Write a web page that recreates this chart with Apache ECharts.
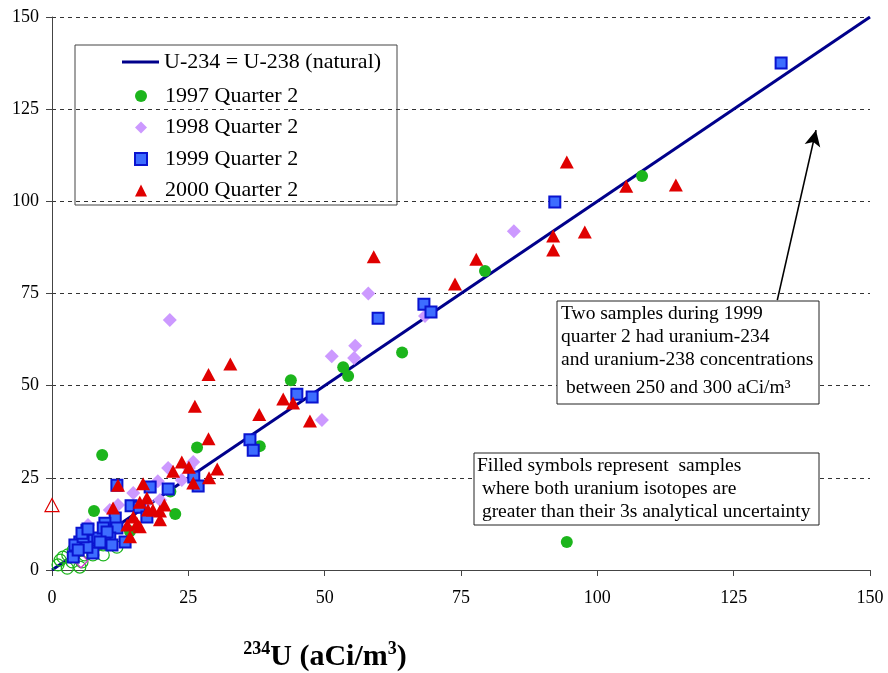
<!DOCTYPE html>
<html>
<head>
<meta charset="utf-8">
<title>U-234 vs U-238</title>
<script src="https://cdn.jsdelivr.net/npm/echarts@6/dist/echarts.min.js"></script>
<style>
  html, body { margin: 0; padding: 0; background: #fff; }
  #chart { width: 888px; height: 673px; }
</style>
</head>
<body>
<div id="chart"></div>
<script>
// Axis ticks (aCi/m3)
const xTicks = [0, 25, 50, 75, 100, 125, 150];
const yTicks = [0, 25, 50, 75, 100, 125, 150];

// Reference line where U-234 equals U-238
const naturalLine = [[0, 0], [150, 150]];

// [U-234, U-238] pairs, filled = both isotopes above 3s uncertainty
const q1997 = [
  [9.2, 31.2], [7.7, 16.0], [26.6, 33.2], [38.1, 33.6], [43.8, 51.5], [53.4, 55.0],
  [54.3, 52.6], [64.2, 59.0], [79.4, 81.1], [108.2, 106.9], [94.4, 7.6], [22.6, 15.2],
  [21.7, 21.3], [14.3, 10.5]
];
const q1997Open = [
  [1.1, 1.4], [1.5, 2.7], [2.0, 3.5], [2.9, 4.1], [2.8, 0.5], [3.7, 2.2], [3.9, 5.4],
  [5.5, 2.2], [5.1, 0.8], [6.0, 4.1], [7.5, 4.1], [9.4, 4.1], [11.9, 6.2], [9.4, 6.8],
  [4.8, 6.0]
];

const q1998 = [
  [21.6, 67.8], [84.7, 91.9], [58.0, 75.0], [55.6, 60.8], [51.3, 58.0], [55.4, 57.5],
  [49.5, 40.7], [68.4, 68.9], [25.9, 29.3], [21.3, 27.7], [19.4, 24.1], [23.8, 24.4],
  [14.9, 20.9], [12.1, 17.6], [10.6, 16.3], [6.6, 12.2], [19.8, 19.0], [17.4, 18.5],
  [25.1, 27.7]
];
const q1998Open = [[5.3, 2.5]];

const q1999 = [
  [133.7, 137.5], [92.2, 99.8], [59.8, 68.3], [68.2, 72.1], [69.5, 70.0], [44.9, 47.7],
  [47.7, 46.9], [36.3, 35.3], [36.9, 32.5], [11.9, 23.0], [18.0, 22.5], [21.3, 22.0],
  [26.0, 25.2], [26.8, 22.8], [14.5, 17.4], [16.0, 17.0], [17.4, 14.4], [11.6, 14.1],
  [6.4, 10.8], [9.7, 12.7], [11.9, 11.4], [13.4, 7.6], [5.1, 7.6], [4.2, 6.8],
  [7.5, 4.6], [3.9, 3.5], [7.0, 8.1], [8.4, 8.7], [10.6, 8.7], [9.7, 7.3],
  [11.0, 6.8], [6.4, 6.2], [5.7, 9.0], [9.4, 11.4], [5.5, 10.0], [6.6, 11.1],
  [10.1, 10.3], [8.8, 7.6], [4.8, 5.4]
];

const q2000 = [
  [94.4, 110.7], [105.3, 104.1], [114.4, 104.4], [97.7, 91.7], [91.9, 90.6], [91.9, 86.8],
  [77.8, 84.3], [73.9, 77.6], [59.0, 85.0], [32.7, 55.9], [28.7, 53.0], [26.2, 44.4],
  [28.7, 35.6], [38.0, 42.2], [42.4, 46.4], [44.2, 45.3], [47.3, 40.4], [23.8, 29.3],
  [22.2, 26.8], [25.1, 27.9], [30.3, 27.4], [28.8, 25.0], [25.9, 23.6], [12.1, 23.0],
  [16.7, 23.4], [20.6, 17.6], [19.8, 16.0], [17.4, 19.5], [16.1, 18.4], [14.9, 14.4],
  [13.8, 12.2], [11.2, 16.8], [16.1, 11.7], [17.6, 16.3], [14.3, 9.0], [15.6, 12.6],
  [18.5, 16.3], [19.8, 13.6]
];
const q2000Open = [[0.0, 17.6]];

// Arrow pointing toward the two off-scale 1999 samples
const arrowFrom = [133.0, 73.2];
const arrowTo = [140.1, 119.3];

const noteTop = 'Two samples during 1999\nquarter 2 had uranium-234\nand uranium-238 concentrations';
const noteTopLast = ' between 250 and 300 aCi/m³';
const noteBottom = 'Filled symbols represent  samples\n where both uranium isotopes are\n greater than their 3s analytical uncertainty';

const SERIF = '"Liberation Serif", "Times New Roman", serif';
const colors = {
  line: '#00008b',
  green: '#1cb51c',
  lilac: '#cc99ff',
  blueFill: '#3d6dff',
  blueEdge: '#0a14d0',
  red: '#e00000'
};

function withOpen(filled, open, color) {
  const items = filled.map(p => ({ value: p }));
  open.forEach(p => items.push({
    value: p,
    itemStyle: { color: 'rgba(0,0,0,0)', borderColor: color, borderWidth: 1.2 }
  }));
  return items;
}

const chart = echarts.init(document.getElementById('chart'), null, { renderer: 'canvas' });

const axisCommon = {
  type: 'value',
  min: xTicks[0],
  max: xTicks[xTicks.length - 1],
  interval: xTicks[1] - xTicks[0],
  axisLine: { show: true, onZero: true, lineStyle: { color: '#444', width: 1 } },
  axisTick: { show: true, inside: false, length: 6, lineStyle: { color: '#444' } },
  axisLabel: { color: '#000', fontFamily: SERIF, fontSize: 18 }
};

chart.setOption({
  animation: false,
  backgroundColor: '#fff',
  grid: { left: 52, right: 18, top: 17, bottom: 103, containLabel: false, outerBoundsMode: 'none' },
  xAxis: Object.assign({}, axisCommon, {
    axisLabel: Object.assign({}, axisCommon.axisLabel, { margin: 19 }),
    splitLine: { show: false },
    name: '{sup|234}{big|U (aCi/m}{sup|3}{big|)}',
    nameLocation: 'middle',
    nameGap: 70,
    nameTextStyle: {
      padding: [0, 272, 0, 0],
      rich: {
        big: { fontFamily: SERIF, fontWeight: 'bold', fontSize: 30, color: '#000', verticalAlign: 'bottom', lineHeight: 32 },
        sup: { fontFamily: SERIF, fontWeight: 'bold', fontSize: 18, color: '#000', verticalAlign: 'top', lineHeight: 32, padding: [0, 0, 14, 0] }
      }
    }
  }),
  yAxis: Object.assign({}, axisCommon, {
    min: yTicks[0],
    max: yTicks[yTicks.length - 1],
    interval: yTicks[1] - yTicks[0],
    axisLabel: Object.assign({}, axisCommon.axisLabel, { margin: 13 }),
    splitLine: { show: true, lineStyle: { color: '#333', type: [4, 4], width: 1 } }
  }),
  legend: [
    {
      data: [{ name: 'U-234 = U-238 (natural)', icon: 'rect' }],
      orient: 'vertical',
      left: 122, top: 50, padding: 0,
      itemWidth: 37, itemHeight: 3,
      textStyle: { fontFamily: SERIF, fontSize: 22, color: '#000', lineHeight: 24 },
      selectedMode: false
    },
    {
      data: ['1997 Quarter 2', '1998 Quarter 2', '1999 Quarter 2', '2000 Quarter 2'],
      orient: 'vertical',
      left: 134, top: 84, padding: 0,
      itemWidth: 12, itemHeight: 12, itemGap: 7.5,
      textStyle: { fontFamily: SERIF, fontSize: 22, color: '#000', lineHeight: 24, padding: [0, 0, 0, 13] },
      selectedMode: false
    }
  ],
  graphic: [
    {
      type: 'rect', x: 75, y: 45, z: 90,
      shape: { width: 322, height: 160 },
      style: { fill: 'rgba(0,0,0,0)', stroke: '#444', lineWidth: 1 }
    },
    {
      type: 'rect', x: 557, y: 301, z: 95,
      shape: { width: 262, height: 103 },
      style: { fill: '#fff', stroke: '#222', lineWidth: 1 }
    },
    {
      type: 'text', x: 561, y: 302, z: 96,
      style: { text: noteTop, font: '19.5px ' + SERIF, fill: '#000', lineHeight: 23, verticalAlign: 'top' }
    },
    {
      type: 'text', x: 561, y: 376, z: 96,
      style: { text: noteTopLast, font: '19.5px ' + SERIF, fill: '#000', lineHeight: 23, verticalAlign: 'top' }
    },
    {
      type: 'rect', x: 474, y: 453, z: 95,
      shape: { width: 345, height: 72 },
      style: { fill: '#fff', stroke: '#222', lineWidth: 1 }
    },
    {
      type: 'text', x: 477, y: 454, z: 96,
      style: { text: noteBottom, font: '19.5px ' + SERIF, fill: '#000', lineHeight: 23, verticalAlign: 'top' }
    }
  ],
  series: [
    {
      name: 'U-234 = U-238 (natural)',
      type: 'line',
      data: naturalLine,
      showSymbol: false,
      symbol: 'none',
      lineStyle: { color: colors.line, width: 3 },
      itemStyle: { color: colors.line },
      z: 1,
      markLine: {
        silent: true,
        symbol: ['none', 'arrow'],
        symbolSize: [12, 16],
        label: { show: false },
        lineStyle: { color: '#000', width: 1.6, type: 'solid' },
        data: [[{ coord: arrowFrom }, { coord: arrowTo }]]
      }
    },
    {
      name: '1997 Quarter 2', type: 'scatter', symbol: 'circle', symbolSize: 12, z: 2,
      itemStyle: { color: colors.green, opacity: 1 },
      data: withOpen(q1997, q1997Open, colors.green)
    },
    {
      name: '1998 Quarter 2', type: 'scatter', symbol: 'diamond', symbolSize: 14, z: 3,
      itemStyle: { color: colors.lilac, opacity: 1 },
      data: withOpen(q1998, q1998Open, '#cc33cc')
    },
    {
      name: '1999 Quarter 2', type: 'scatter', symbol: 'rect', symbolSize: 11, z: 4,
      itemStyle: { color: colors.blueFill, borderColor: colors.blueEdge, borderWidth: 2, opacity: 1 },
      data: q1999
    },
    {
      name: '2000 Quarter 2', type: 'scatter', symbol: 'triangle', symbolSize: [14, 13], z: 5,
      itemStyle: { color: colors.red, opacity: 1 },
      data: withOpen(q2000, q2000Open, colors.red)
    }
  ]
});
</script>
</body>
</html>
